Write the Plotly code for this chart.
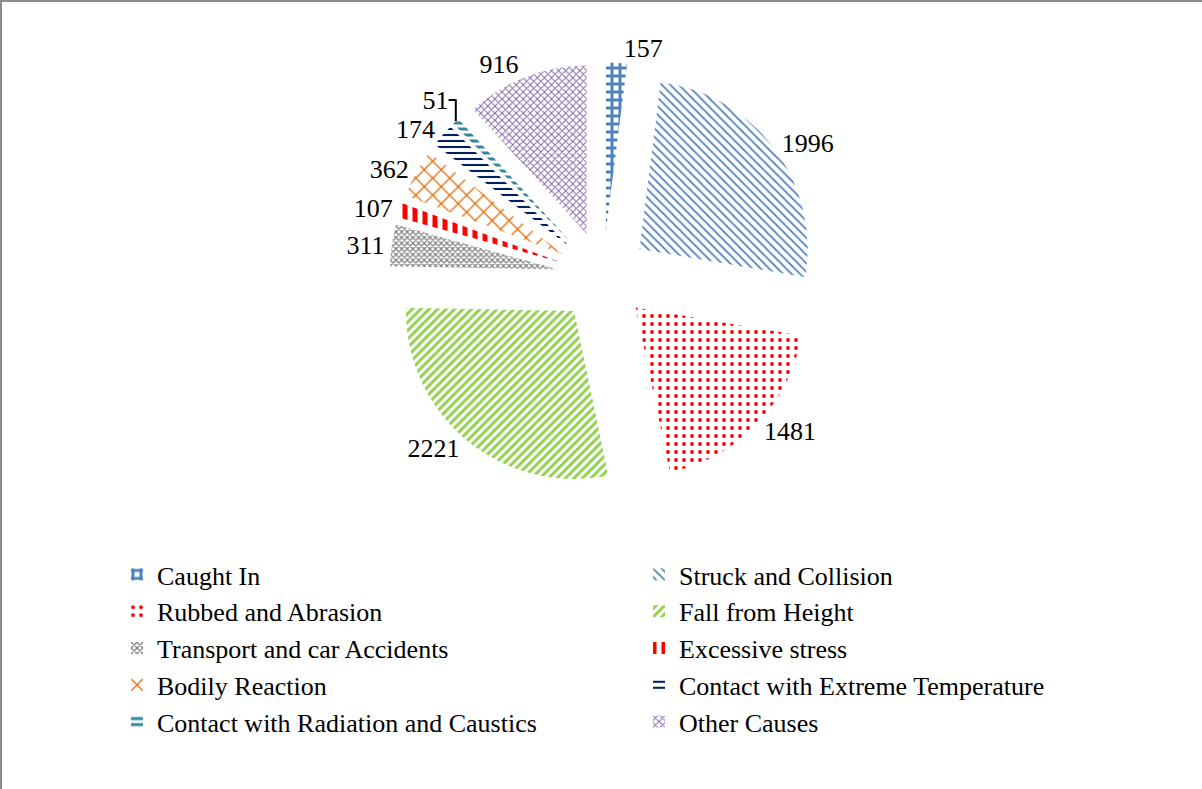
import plotly.graph_objects as go

categories = ["Caught In", "Struck and Collision", "Rubbed and Abrasion", "Fall from Height",
              "Transport and car Accidents", "Excessive stress", "Bodily Reaction",
              "Contact with Extreme Temperature", "Contact with Radiation and Caustics", "Other Causes"]
values = [157, 1996, 1481, 2221, 311, 107, 362, 174, 51, 916]
colors = ["#4F81BD", "#4F81BD", "#FF0000", "#92D050", "#7F7F7F", "#FF0000", "#E36C09",
          "#002060", "#31859C", "#8064A2"]
shapes = ["+", "\\", ".", "/", "x", "|", "x", "-", "-", "x"]
sizes = [8, 6, 8, 6, 4, 10, 12, 6, 6, 5]
solid = [0.6, 0.3, 0.18, 0.5, 0.5, 0.5, 0.2, 0.35, 0.5, 0.35]

W, H = 1202, 789
fig = go.Figure(go.Pie(
    labels=categories, values=values, sort=False, direction="clockwise", rotation=0,
    pull=[0.27] * len(values),
    marker=dict(colors=["white"] * len(values),
                line=dict(width=0),
                pattern=dict(shape=shapes, fgcolor=colors, bgcolor="white",
                             size=sizes, solidity=solid, fillmode="replace")),
    textinfo="value", textposition="outside",
    textfont=dict(family="Liberation Serif", size=26, color="black"),
    domain=dict(x=[389.5 / W, 816.5 / W], y=[1 - 489.5 / H, 1 - 62.5 / H]),
    showlegend=True,
))

fig.update_layout(
    width=W, height=H, margin=dict(l=0, r=0, t=0, b=0, autoexpand=False),
    paper_bgcolor="white", plot_bgcolor="white",
    legend=dict(orientation="h", x=117 / W, y=1 - 551 / H, xanchor="left", yanchor="top",
                entrywidth=477, entrywidthmode="pixels",
                font=dict(family="Liberation Serif", size=26, color="black"),
                itemwidth=30, traceorder="normal"),
    shapes=[
        dict(type="line", xref="paper", yref="paper", x0=0, x1=1, y0=1, y1=1,
             line=dict(color="#8C8C8C", width=4)),
        dict(type="line", xref="paper", yref="paper", x0=0, x1=0, y0=0, y1=1,
             line=dict(color="#8C8C8C", width=4)),
    ],
)
fig.write_html("out.html", config={"displayModeBar": False},
               post_script="document.body.style.margin='0';")
